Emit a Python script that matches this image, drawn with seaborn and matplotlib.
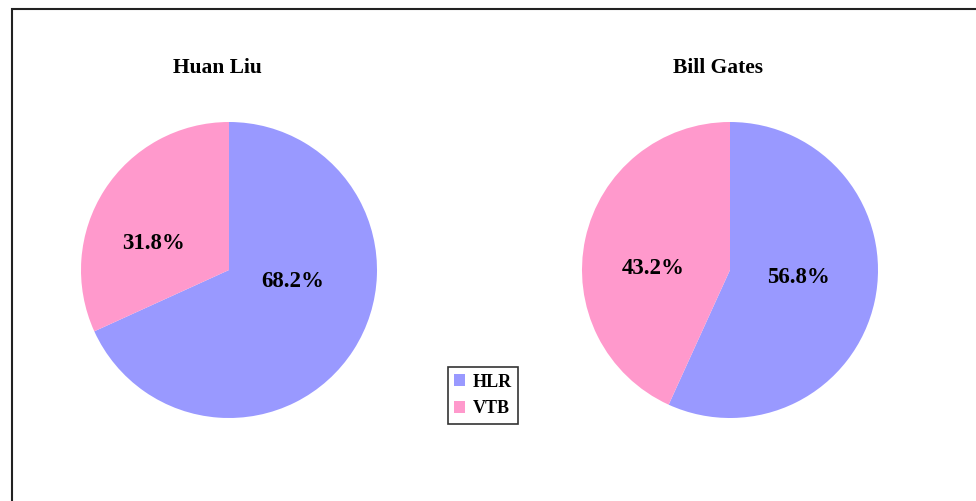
import matplotlib
matplotlib.use("Agg")
import matplotlib.pyplot as plt
from matplotlib.patches import Rectangle, Patch
import seaborn as sns

sns.set_theme(style="white")
plt.rcParams["font.family"] = ["Liberation Serif", "DejaVu Serif"]

categories = ["HLR", "VTB"]
people = ["Huan Liu", "Bill Gates"]
shares = {
    "Huan Liu": [68.2, 31.8],
    "Bill Gates": [56.8, 43.2],
}
colors = ["#9999FF", "#FF99CC"]

# label anchor points in pie data units (radius 1)
label_pos = {
    "Huan Liu": [(0.43, -0.08), (-0.51, 0.18)],
    "Bill Gates": [(0.46, -0.05), (-0.52, 0.01)],
}

W, H = 976, 501
fig = plt.figure(figsize=(W / 100, H / 100), dpi=100)
fig.patch.set_facecolor("white")

centers = [(229, 270), (730, 270)]
r = 148
for person, (cx, cy) in zip(people, centers):
    ax = fig.add_axes([(cx - r) / W, (H - cy - r) / H, 2 * r / W, 2 * r / H])
    wedges, texts, autotexts = ax.pie(
        shares[person], colors=colors, startangle=90, counterclock=False,
        autopct="%.1f%%", pctdistance=0.5,
        wedgeprops=dict(linewidth=0),
        textprops=dict(fontsize=16.5, fontweight="bold", color="black"),
    )
    for t, pos in zip(autotexts, label_pos[person]):
        t.set_position(pos)
    ax.set_xlim(-1, 1)
    ax.set_ylim(-1, 1)
    ax.set_aspect("equal")
    ax.axis("off")
    fig.text((cx - 12) / W, 1 - 68 / H, person, ha="center", va="center",
             fontsize=15.5, fontweight="bold", color="black")

handles = [Patch(facecolor=c, edgecolor="none") for c in colors]
leg = fig.legend(handles, categories, loc="center",
                 bbox_to_anchor=(483 / W, 1 - 395.5 / H),
                 frameon=True, fancybox=False, handlelength=0.6,
                 handleheight=0.6, handletextpad=0.4, labelspacing=0.55,
                 borderpad=0.35, borderaxespad=0.0,
                 prop=dict(size=13, weight="bold"))
leg.get_frame().set_edgecolor("black")
leg.get_frame().set_linewidth(1.2)
for t in leg.get_texts():
    t.set_color("black")

# outer frame
fig.add_artist(Rectangle((11.5 / W, -0.05), 1.0, 1 - 9.5 / H + 0.05,
                         transform=fig.transFigure, fill=False,
                         edgecolor="#222222", linewidth=1.5))

fig.savefig("out.png", dpi=100, facecolor="white")
